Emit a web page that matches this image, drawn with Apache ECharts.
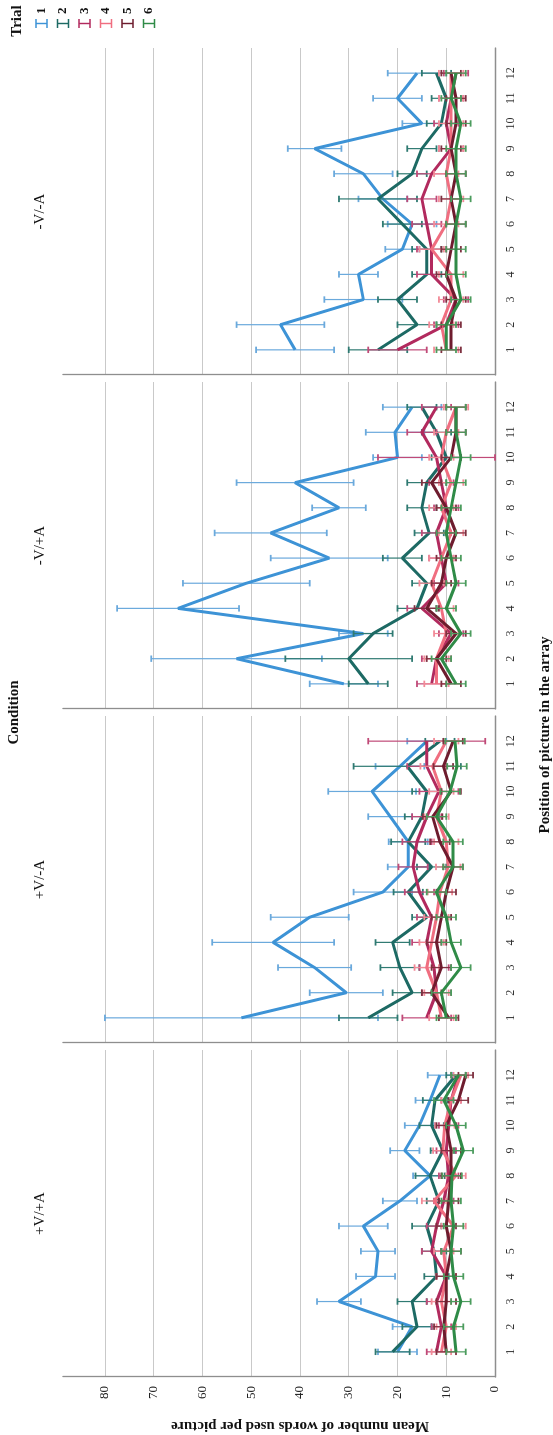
<!DOCTYPE html>
<html>
<head>
<meta charset="utf-8">
<script src="https://cdn.jsdelivr.net/npm/echarts@6/dist/echarts.min.js"></script>
<style>
  html, body { margin: 0; padding: 0; background: #fff; }
  #frame { position: relative; width: 553px; height: 1435px; overflow: hidden; background: #fff; }
  /* the chart is laid out landscape and turned a quarter turn counter-clockwise */
  #chart { position: absolute; left: 0; top: 0; width: 1435px; height: 553px;
           transform-origin: 0 0; transform: translate(0, 1435px) rotate(-90deg); }
</style>
</head>
<body>
<div id="frame"><div id="chart"></div></div>
<script>
// ---- data ----
const positions = [1, 2, 3, 4, 5, 6, 7, 8, 9, 10, 11, 12];
const conditions = ['+V/+A', '+V/-A', '-V/+A', '-V/-A'];
const trials = ['1', '2', '3', '4', '5', '6'];
const valueTicks = [0, 10, 20, 30, 40, 50, 60, 70, 80];

// mean words per picture, one row per trial
const meansVpAp = [
  [20, 17, 32, 24.5, 24, 27, 19.5, 13.3, 18.5, 15.5, 13.3, 11.3],
  [21, 16, 17, 12, 12.5, 14, 11.5, 13.3, 10.7, 13, 12.3, 8],
  [12, 11, 12, 10, 13, 12, 10.5, 9.5, 10, 9.5, 9, 7.5],
  [11, 10, 11, 10, 10.5, 8.5, 12.5, 8, 10.7, 10.3, 9, 7],
  [10, 10.5, 10, 10, 9, 10, 9.5, 9, 9, 10, 7.5, 6],
  [8, 8.5, 7, 8.5, 9, 8.5, 9, 8.8, 6.5, 8, 10.5, 7.5]
];
const errsVpAp = [
  [4, 4, 4.5, 4, 3.5, 5, 3.5, 3.5, 3, 3, 3, 2.5],
  [3.5, 3, 3, 2.5, 2.5, 3, 2.5, 3, 2.5, 2.5, 2.5, 2],
  [2, 2, 2, 2, 2, 2, 2, 2, 2, 2, 2, 1.5],
  [2, 2, 2, 2, 2, 2.5, 2.5, 2, 2, 2, 2, 1.5],
  [2, 2, 2, 2, 2, 2, 2, 2, 2, 2, 2, 1.5],
  [2, 2, 2, 2, 2, 2, 2, 2, 2, 2, 2, 1.5]
];

const meansVpAm = [
  [52, 30.5, 37, 45.5, 38, 23, 17.8, 17.8, 21.5, 25.2, 19.5, 14],
  [26, 17, 19.5, 21, 14, 17.8, 13, 17.8, 15, 14, 18, 11.3],
  [14, 12, 12.5, 14, 13, 15.5, 16.8, 16, 14, 11.5, 14, 14],
  [11, 12, 14, 13, 12, 11.3, 9.6, 10, 12, 11, 12.8, 10],
  [9.5, 13, 11, 12, 11, 10, 8.6, 11.3, 12.8, 9, 10.6, 8.6],
  [10, 11, 7, 9, 10, 12, 8.6, 8.6, 12, 9.2, 7.8, 8.2]
];
const errsVpAm = [
  [28, 7.5, 7.5, 12.5, 8, 6, 4.2, 4, 4.5, 9, 5, 4],
  [6, 4, 4, 3.5, 3, 3, 3, 3.5, 3.5, 3, 11, 3],
  [5, 3, 3, 3, 3, 3, 3, 3, 3, 4, 4, 12],
  [2.5, 2.5, 2.5, 2.5, 2.5, 2.5, 2.5, 2.5, 2.5, 2.5, 2.5, 2.5],
  [2, 2, 2, 2, 2, 2, 2, 2, 2, 2, 2, 2],
  [2, 2, 2, 2, 2, 2, 2, 2, 2, 2, 2, 2]
];

const meansVmAp = [
  [31, 53, 27, 65, 51, 34, 46, 32, 41, 20, 20.5, 17],
  [26, 30, 25, 16, 14, 19, 13.5, 15, 14, 10, 12, 15],
  [13, 12, 9, 15, 10, 11, 12, 10, 11, 12, 15, 12],
  [12, 12, 10, 11, 13, 11, 9, 11, 9, 11, 10, 8],
  [9, 12, 8, 14, 11, 10, 8, 10, 13, 9, 8, 8],
  [8, 11, 7, 10, 8, 9, 10, 9, 8, 7, 8, 8]
];
const errsVmAp = [
  [7, 17.5, 5, 12.5, 13, 12, 11.5, 5.5, 12, 5, 6, 6],
  [4, 13, 4, 4, 3, 4, 3, 3, 4, 3, 3, 3],
  [3, 3, 2.5, 3, 2.5, 2.5, 3, 2.5, 2.5, 12, 3, 3],
  [2.5, 2.5, 2.5, 2.5, 2.5, 2.5, 2.5, 2.5, 2.5, 2.5, 2.5, 2.5],
  [2, 2, 2, 2.5, 2, 2, 2, 2, 2, 2, 2, 2],
  [2, 2, 2, 2, 2, 2, 2, 2, 2, 2, 2, 2]
];

const meansVmAm = [
  [41, 44, 27, 28, 19, 17, 23, 27, 37, 15, 20, 16],
  [24, 16, 20, 14, 14, 19, 24, 17, 15, 11, 10, 12],
  [20, 10, 8, 13, 13, 14, 15, 13, 9, 10, 9, 8],
  [10, 11, 9, 9, 13, 10, 9, 10, 9, 9, 9, 9],
  [9, 9, 8, 10, 9, 8, 9, 8, 9, 8, 8, 9],
  [10, 10, 7, 8, 8, 8, 7, 8, 8, 7, 9, 8]
];
const errsVmAm = [
  [8, 9, 8, 4, 3.5, 5, 5, 6, 5.5, 4, 5, 6],
  [6, 4, 4, 3, 3, 4, 8, 3, 3, 3, 3, 3],
  [6, 2.5, 2.5, 3, 3, 3, 3, 3, 2.5, 2.5, 2.5, 2.5],
  [2.5, 2.5, 2.5, 2.5, 2.5, 2.5, 2.5, 2.5, 2.5, 2.5, 2.5, 2.5],
  [2, 2, 2, 2, 2, 2, 2, 2, 2, 2, 2, 2],
  [2, 2, 2, 2, 2, 2, 2, 2, 2, 2, 2, 2]
];

// ---- styling ----
const panelMeans = [meansVpAp, meansVpAm, meansVmAp, meansVmAm];
const panelErrs = [errsVpAp, errsVpAm, errsVmAp, errsVmAm];
const lineColors = ['#3d93d6', '#1d6a64', '#b22a5e', '#f06e80', '#6e1c2e', '#2f8b47'];
const barColors  = ['#6aa9dc', '#2f7a72', '#c04a78', '#f28a97', '#7e3140', '#4c9c5e'];
const SERIF = '"Liberation Serif", "Times New Roman", serif';
const AXIS_COLOR = '#8e8e8e';
const GRID_COLOR = '#c9c9c9';
const PANEL_LEFT = 58, PANEL_STEP = 334, PANEL_W = 327, PLOT_TOP = 63, PLOT_H = 432;
const VALUE_MAX = 88.6;

const chart = echarts.init(document.getElementById('chart'), null, { renderer: 'canvas' });

const grids = [], xAxes = [], yAxes = [], series = [];
conditions.forEach((cond, i) => {
  grids.push({ left: PANEL_LEFT + i * PANEL_STEP, top: PLOT_TOP, width: PANEL_W, height: PLOT_H });
  xAxes.push({
    gridIndex: i, type: 'value', min: 0, max: 13, interval: 1,
    axisLine: { show: true, lineStyle: { color: AXIS_COLOR, width: 1.3 } },
    axisTick: { show: false }, splitLine: { show: false },
    axisLabel: {
      margin: 10, color: '#333', fontFamily: SERIF, fontSize: 12,
      formatter: v => positions.includes(v) ? String(v) : ''
    }
  });
  // the top end of the value axis carries no grid line
  const splitColors = valueTicks.map(() => GRID_COLOR).concat(['rgba(0,0,0,0)']);
  yAxes.push({
    gridIndex: i, type: 'value', min: 0, max: VALUE_MAX, interval: 10,
    axisLine: { show: true, lineStyle: { color: AXIS_COLOR, width: 1.3 } },
    axisTick: { show: false },
    splitLine: { show: true, lineStyle: { color: splitColors, width: 1 } },
    axisLabel: {
      show: i === 0, margin: 9, color: '#222', fontFamily: SERIF, fontSize: 13,
      formatter: v => valueTicks.includes(v) ? String(v) : ''
    }
  });

  trials.forEach((name, t) => {
    const m = panelMeans[i][t], e = panelErrs[i][t];
    // error bars: mean ± error, with short end caps
    series.push({
      type: 'custom', name, xAxisIndex: i, yAxisIndex: i, silent: true, z: 2 + t * 2,
      itemStyle: { color: lineColors[t] },
      data: positions.map((p, k) => [p, m[k] - e[k], m[k] + e[k]]),
      renderItem: (params, api) => {
        const lo = api.coord([api.value(0), api.value(1)]);
        const hi = api.coord([api.value(0), api.value(2)]);
        const hw = 3.2;
        const capStyle = { stroke: barColors[t], lineWidth: 1.8 };
        return {
          type: 'group', children: [
            { type: 'line', shape: { x1: lo[0], y1: lo[1], x2: hi[0], y2: hi[1] }, style: { stroke: barColors[t], lineWidth: 1.2 } },
            { type: 'line', shape: { x1: lo[0] - hw, y1: lo[1], x2: lo[0] + hw, y2: lo[1] }, style: capStyle },
            { type: 'line', shape: { x1: hi[0] - hw, y1: hi[1], x2: hi[0] + hw, y2: hi[1] }, style: capStyle }
          ]
        };
      }
    });
    series.push({
      type: 'line', name, xAxisIndex: i, yAxisIndex: i, z: 3 + t * 2,
      symbol: 'none', showSymbol: false,
      lineStyle: { color: lineColors[t], width: 3 },
      itemStyle: { color: lineColors[t] },
      data: positions.map((p, k) => [p, m[k]])
    });
  });
});

const errIcon = 'path://M0,0H10V1.6H0Z M4.2,0H5.8V14H4.2Z M0,12.4H10V14H0Z';

const titleStyle = { fontFamily: SERIF, fontSize: 15, fontWeight: 'bold', fill: '#111', align: 'center', verticalAlign: 'middle' };
const graphic = [
  { type: 'text', x: 1414, y: 17, style: Object.assign({ text: 'Trial' }, titleStyle) },
  { type: 'text', x: 9, y: 300, rotation: Math.PI / 2,
    style: Object.assign({ text: 'Mean number of words used per picture' }, titleStyle) },
  { type: 'text', x: 700, y: 545, style: Object.assign({ text: 'Position of picture in the array' }, titleStyle) },
  { type: 'text', x: PANEL_LEFT + (3 * PANEL_STEP + PANEL_W) / 2, y: 14,
    style: Object.assign({ text: 'Condition' }, titleStyle) }
];
conditions.forEach((cond, i) => {
  graphic.push({
    type: 'text', x: PANEL_LEFT + i * PANEL_STEP + PANEL_W / 2, y: 40,
    style: { text: cond, fontFamily: SERIF, fontSize: 15, fill: '#111', align: 'center', verticalAlign: 'middle' }
  });
});

chart.setOption({
  animation: false,
  backgroundColor: '#fff',
  grid: grids,
  xAxis: xAxes,
  yAxis: yAxes,
  legend: {
    orient: 'vertical', left: 1402, top: 30,
    itemWidth: 9, itemHeight: 13, itemGap: 8.5,
    data: trials.map(n => ({ name: n, icon: errIcon })),
    textStyle: { fontFamily: SERIF, fontSize: 13, fontWeight: 'bold', color: '#111' },
    selectedMode: false
  },
  graphic,
  series
});
</script>
</body>
</html>
